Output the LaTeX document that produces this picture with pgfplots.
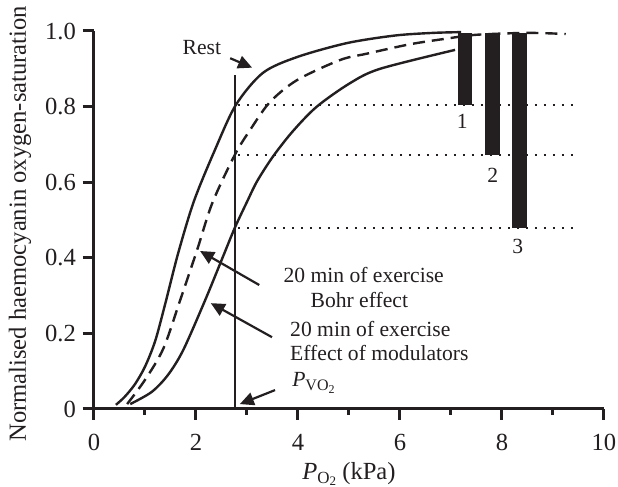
\documentclass[border=0pt]{standalone}
\usepackage{fontspec}
\setmainfont{Liberation Serif}
\usepackage{pgfplots}
\usepackage{pgfplotstable}
\pgfplotsset{compat=1.18}
\usetikzlibrary{arrows.meta}
\definecolor{ink}{RGB}{35,31,32}

\pgfplotstableread{
x y
0.43 0.011
0.60 0.032
0.80 0.065
1.00 0.112
1.20 0.180
1.40 0.280
1.65 0.412
1.96 0.550
2.37 0.685
2.78 0.804
3.31 0.889
3.98 0.931
4.96 0.968
5.90 0.988
6.65 0.995
7.20 0.997
}\rest
\pgfplotstableread{
x y
0.65 0.013
1.00 0.077
1.36 0.160
1.69 0.288
2.02 0.420
2.32 0.545
2.76 0.672
3.06 0.738
3.45 0.812
3.98 0.870
4.82 0.923
5.35 0.940
6.20 0.965
6.92 0.980
7.50 0.990
8.50 0.995
9.25 0.992
}\bohr
\pgfplotstableread{
x y
0.71 0.013
1.13 0.045
1.45 0.090
1.75 0.156
2.18 0.288
2.52 0.400
2.76 0.479
3.00 0.548
3.20 0.603
3.51 0.668
3.90 0.735
4.37 0.800
5.02 0.862
5.61 0.900
7.08 0.950
}\modul

\begin{document}
\begin{tikzpicture}
\useasboundingbox (-47pt,-39pt) rectangle (262pt,204.5pt);
\begin{axis}[
  at={(0pt,0pt)}, anchor=south west,
  scale only axis, width=255pt, height=189pt,
  xmin=0, xmax=10, ymin=0, ymax=1,
  axis x line*=bottom, axis y line*=left,
  axis line style={line width=1.5pt, color=ink},
  clip=false,
  xtick={0,2,4,6,8,10},
  minor xtick={1,3,5,7,9},
  ytick={0,0.2,0.4,0.6,0.8,1.0},
  yticklabels={0,0.2,0.4,0.6,0.8,1.0},
  xticklabels={0,2,4,6,8,10},
  tick align=outside,
  major tick length=5.5pt,
  minor tick length=3pt,
  every tick/.append style={line width=1.5pt, ink},
  ticklabel style={font=\fontsize{12.3}{14}\selectfont, text=ink},
  xticklabel style={yshift=-3.5pt},
  /pgf/number format/assume math mode=true,
]
% tick marks as rule nodes
\pgfplotsinvokeforeach{0,2,4,6,8,10}{\node[inner sep=0pt, outer sep=0pt, anchor=north, text=ink] at (axis cs:#1,0) {\rule{1.5pt}{5.5pt}};}
\pgfplotsinvokeforeach{1,3,5,7,9}{\node[inner sep=0pt, outer sep=0pt, anchor=north, text=ink] at (axis cs:#1,0) {\rule{1.5pt}{3pt}};}
\pgfplotsinvokeforeach{0,0.2,0.4,0.6,0.8,1.0}{\node[inner sep=0pt, outer sep=0pt, anchor=east, text=ink] at (axis cs:0,#1) {\rule[-0.75pt]{5.5pt}{1.5pt}};}
% curves
\addplot[ink, line width=1.2pt, smooth, tension=0.5] table {\rest};
\addplot[ink, line width=1.2pt, smooth, tension=0.5, dash pattern=on 6pt off 3.5pt] table {\bohr};
\addplot[ink, line width=1.2pt, smooth, tension=0.5] table {\modul};
% vertical PvO2 line
\addplot[ink, line width=1.1pt] coordinates {(2.76,0) (2.76,0.884)};
% dotted levels
\addplot[ink, line width=1.3pt, dash pattern=on 1.3pt off 3.2pt] coordinates {(2.82,0.804) (9.40,0.804)};
\addplot[ink, line width=1.3pt, dash pattern=on 1.3pt off 3.2pt] coordinates {(2.82,0.672) (9.40,0.672)};
\addplot[ink, line width=1.3pt, dash pattern=on 1.3pt off 3.2pt] coordinates {(2.82,0.479) (9.47,0.479)};
% bars
\addplot[fill=ink, draw=none] coordinates {(7.14,0.804) (7.14,0.995) (7.41,0.995) (7.41,0.804)} -- cycle;
\addplot[fill=ink, draw=none] coordinates {(7.67,0.672) (7.67,0.995) (7.96,0.995) (7.96,0.672)} -- cycle;
\addplot[fill=ink, draw=none] coordinates {(8.20,0.479) (8.20,0.995) (8.49,0.995) (8.49,0.479)} -- cycle;
% bar numbers
\node[font=\fontsize{10.8}{12}\selectfont, text=ink] at (axis cs:7.22,0.76) {1};
\node[font=\fontsize{10.8}{12}\selectfont, text=ink] at (axis cs:7.82,0.617) {2};
\node[font=\fontsize{10.8}{12}\selectfont, text=ink] at (axis cs:8.31,0.43) {3};
% arrows
\draw[ink, line width=1.1pt, -{Triangle[length=7pt,width=6.5pt]}] (axis cs:2.67,0.928) -- (axis cs:3.1,0.903);
\draw[ink, line width=1.1pt, -{Triangle[length=7pt,width=6.5pt]}] (axis cs:3.24,0.328) -- (axis cs:2.08,0.418);
\draw[ink, line width=1.1pt, -{Triangle[length=7pt,width=6.5pt]}] (axis cs:3.49,0.19) -- (axis cs:2.29,0.28);
\draw[ink, line width=1.1pt, -{Triangle[length=7pt,width=6.5pt]}] (axis cs:3.55,0.05) -- (axis cs:2.86,0.013);
% annotations
\begin{scope}[every node/.style={font=\fontsize{10.8}{12}\selectfont, text=ink, inner sep=0pt}]
\node[anchor=east] at (axis cs:2.5,0.955) {Rest};
\node[anchor=west] at (axis cs:3.71,0.354) {20 min of exercise};
\node[anchor=west] at (axis cs:4.24,0.288) {Bohr effect};
\node[anchor=west] at (axis cs:3.84,0.212) {20 min of exercise};
\node[anchor=west] at (axis cs:3.84,0.148) {Effect of modulators};
\node[anchor=west] at (axis cs:3.88,0.069) {\textit{P}\raisebox{-0.35ex}{\fontsize{8}{9}\selectfont VO\raisebox{-0.35ex}{\fontsize{6}{7}\selectfont 2}}};
% axis labels
\node[rotate=90, font=\fontsize{12.3}{14}\selectfont] at (axis cs:-1.45,0.49) {Normalised haemocyanin oxygen-saturation};
\node[font=\fontsize{12.3}{14}\selectfont] at (axis cs:5.0,-0.172) {\textit{P}\raisebox{-0.4ex}{\fontsize{8.5}{9}\selectfont O\raisebox{-0.3ex}{\fontsize{6.5}{7}\selectfont 2}} (kPa)};
\end{scope}
\end{axis}
\end{tikzpicture}
\end{document}
